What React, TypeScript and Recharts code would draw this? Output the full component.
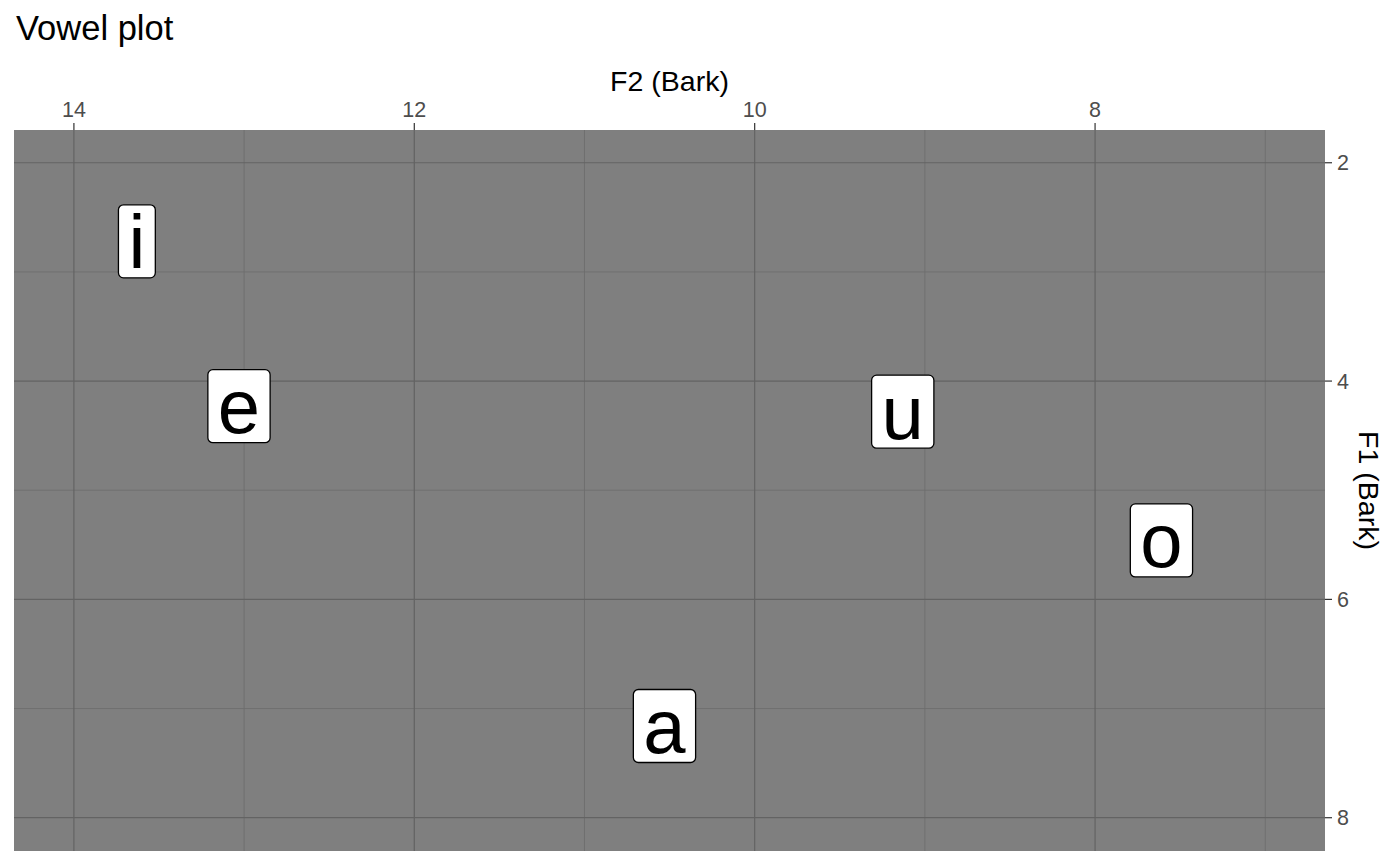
import { ScatterChart, Scatter, XAxis, YAxis, CartesianGrid, ReferenceLine } from "recharts";

const vowels = ["i", "e", "u", "o", "a"];
const f2Values = [13.63, 13.03, 9.13, 7.61, 10.53];
const f1Values = [2.72, 4.23, 4.28, 5.46, 7.16];

const f2Ticks = [8, 10, 12, 14];
const f2Minor = [7, 9, 11, 13];
const f1Ticks = [2, 4, 6, 8];
const f1Minor = [3, 5, 7];

const data = vowels.map((v, i) => ({ vowel: v, x: f2Values[i], y: f1Values[i] }));

const FONT = "'Liberation Sans', Arial, Helvetica, sans-serif";
const LABEL_SIZE = 76;
// rough Helvetica/Arial advance widths (em)
const charWidth: Record<string, number> = { i: 0.222 };

function VowelLabel(props: any) {
  const { cx, cy, payload } = props;
  const w = (charWidth[payload.vowel] ?? 0.556) * LABEL_SIZE + 20;
  const h = 73;
  return (
    <g>
      <rect
        x={cx - w / 2}
        y={cy - h / 2}
        width={w}
        height={h}
        rx={5}
        fill="#FFFFFF"
        stroke="#000000"
        strokeWidth={1.3}
      />
      <text
        x={cx}
        y={cy + 27}
        textAnchor="middle"
        fontSize={LABEL_SIZE}
        fontFamily={FONT}
        fill="#000000"
      >
        {payload.vowel}
      </text>
    </g>
  );
}

export default function App() {
  return (
    <div style={{ position: "relative", width: 1400, height: 865, fontFamily: FONT }}>
      <style>{"body{margin:0}"}</style>
      <ScatterChart width={1400} height={865} margin={{ top: 0, right: 0, bottom: 14, left: 14 }}>
        <CartesianGrid fill="#7F7F7F" horizontal={false} vertical={false} />
        {/* minor grid */}
        {f2Minor.map((v) => (
          <ReferenceLine key={"x" + v} x={v} stroke="#6C6C6C" strokeWidth={0.8} />
        ))}
        {f1Minor.map((v) => (
          <ReferenceLine key={"y" + v} y={v} stroke="#6C6C6C" strokeWidth={0.8} />
        ))}
        {/* major grid */}
        {f2Ticks.map((v) => (
          <ReferenceLine key={"X" + v} x={v} stroke="#636363" strokeWidth={1.2} />
        ))}
        {f1Ticks.map((v) => (
          <ReferenceLine key={"Y" + v} y={v} stroke="#636363" strokeWidth={1.2} />
        ))}
        <XAxis
          type="number"
          dataKey="x"
          orientation="top"
          reversed
          domain={[6.649, 14.352]}
          allowDataOverflow
          ticks={f2Ticks}
          height={130}
          axisLine={false}
          tickSize={7}
          tickMargin={6}
          tickLine={{ stroke: "#333333", strokeWidth: 1.2 }}
          tick={{ fill: "#4D4D4D", fontSize: 21.5, fontFamily: FONT }}
        />
        <YAxis
          type="number"
          dataKey="y"
          orientation="right"
          reversed
          domain={[1.7, 8.305]}
          allowDataOverflow
          ticks={f1Ticks}
          width={75}
          axisLine={false}
          tickSize={7}
          tickMargin={5}
          tickLine={{ stroke: "#333333", strokeWidth: 1.2 }}
          tick={{ fill: "#4D4D4D", fontSize: 21.5, fontFamily: FONT }}
        />
        <Scatter data={data} shape={VowelLabel} isAnimationActive={false} />
      </ScatterChart>
      <svg
        width={1400}
        height={865}
        style={{ position: "absolute", left: 0, top: 0, pointerEvents: "none" }}
      >
        <text x={16} y={40} fontSize={34.5} fontFamily={FONT} fill="#000000">
          Vowel plot
        </text>
        <text x={669.5} y={91} fontSize={28.5} textAnchor="middle" fontFamily={FONT} fill="#000000">
          F2 (Bark)
        </text>
        <text
          x={1359}
          y={490.5}
          fontSize={28.5}
          textAnchor="middle"
          fontFamily={FONT}
          fill="#000000"
          transform="rotate(90 1359 490.5)"
        >
          F1 (Bark)
        </text>
      </svg>
    </div>
  );
}
